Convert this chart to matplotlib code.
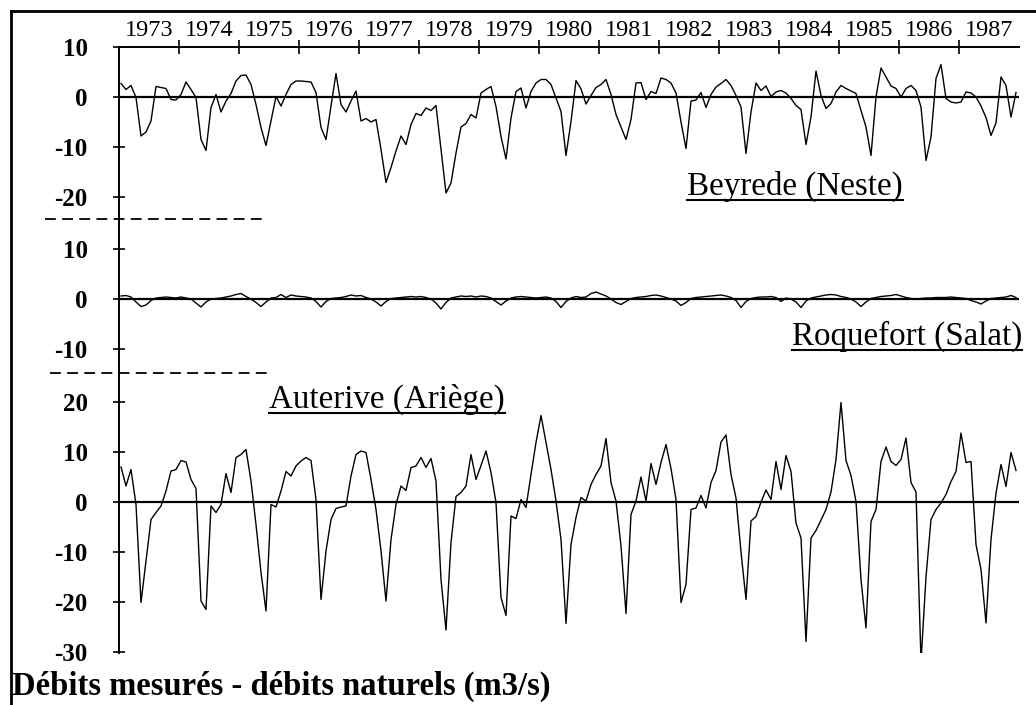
import matplotlib
matplotlib.use("Agg")
import matplotlib.pyplot as plt
import matplotlib.transforms as mtransforms
from matplotlib.lines import Line2D

# monthly values, Jan 1973 - Dec 1987 (m3/s)
years = list(range(1973, 1988))

beyrede = [
    2.7, 1.5, 2.3, -0.1, -7.8, -7.0, -4.8, 2.1, 1.9, 1.7, -0.5, -0.6,      # 1973
    0.5, 3.0, 1.5, -0.1, -8.5, -10.7, -2.1, 0.5, -3.0, -0.8, 0.7, 3.2,     # 1974
    4.3, 4.4, 2.5, -1.5, -6.1, -9.7, -4.8, 0.1, -1.8, 0.5, 2.5, 3.2,       # 1975
    3.2, 3.1, 3.0, 0.9, -6.1, -8.5, -1.8, 4.7, -1.5, -3.0, -0.8, 1.2,      # 1976
    -4.8, -4.3, -5.0, -4.5, -10.5, -17.1, -14.1, -10.8, -7.8, -9.5, -5.5, -3.3,  # 1977
    -3.7, -2.2, -2.7, -1.7, -10.5, -19.2, -17.2, -11.2, -6.0, -5.3, -3.5, -4.2,  # 1978
    0.8, 1.5, 2.1, -1.9, -7.9, -12.4, -4.2, 1.1, 1.8, -2.2, 1.1, 2.8,      # 1979
    3.5, 3.5, 2.5, -0.2, -2.9, -11.7, -4.9, 3.3, 1.6, -1.4, 0.3, 1.9,      # 1980
    2.5, 3.5, 0.5, -3.5, -6.0, -8.5, -4.5, 2.8, 2.9, -0.5, 1.1, 0.7,       # 1981
    3.8, 3.5, 2.8, 0.8, -5.0, -10.3, -0.8, -0.6, 0.9, -2.1, 0.5, 2.0,      # 1982
    2.7, 3.5, 2.3, 0.3, -2.0, -11.3, -3.0, 2.8, 1.3, 2.2, 0.1, 1.0,        # 1983
    1.3, 0.8, -0.3, -1.7, -2.5, -9.5, -4.0, 5.2, 0.3, -2.3, -1.3, 1.0,     # 1984
    2.3, 1.7, 1.2, 0.7, -2.7, -6.0, -11.7, 0.0, 5.8, 4.0, 2.2, 1.7,        # 1985
    0.0, 1.7, 2.3, 1.3, -2.0, -12.7, -8.0, 3.7, 6.5, -0.3, -1.0, -1.2,     # 1986
    -1.0, 1.0, 0.8, 0.0, -1.8, -4.1, -7.7, -5.2, 4.0, 2.3, -4.0, 0.9,      # 1987
]

roquefort = [
    0.6, 0.7, 0.4, -0.6, -1.5, -1.2, -0.3, 0.2, 0.3, 0.4, 0.3, 0.2,
    0.4, 0.2, 0.0, -0.8, -1.6, -0.6, 0.0, 0.1, 0.2, 0.4, 0.6, 0.9,
    1.1, 0.5, 0.0, -0.7, -1.5, -0.6, 0.2, 0.3, 0.9, 0.3, 0.8, 0.6,
    0.5, 0.4, 0.2, -0.5, -1.6, -0.5, 0.1, 0.2, 0.3, 0.5, 0.8, 0.6,
    0.7, 0.3, 0.0, -0.6, -1.4, -0.5, 0.1, 0.2, 0.3, 0.4, 0.5, 0.4,
    0.5, 0.3, 0.0, -0.8, -2.0, -0.7, 0.2, 0.4, 0.6, 0.5, 0.6, 0.4,
    0.6, 0.5, 0.2, -0.5, -1.2, -0.4, 0.2, 0.4, 0.5, 0.4, 0.3, 0.2,
    0.3, 0.4, 0.2, -0.5, -1.7, -0.5, 0.2, 0.5, 0.3, 0.4, 1.1, 1.4,
    1.0, 0.6, 0.0, -0.7, -1.1, -0.5, 0.1, 0.3, 0.4, 0.5, 0.7, 0.8,
    0.6, 0.3, 0.0, -0.4, -1.3, -0.7, 0.1, 0.3, 0.4, 0.5, 0.6, 0.7,
    0.8, 0.6, 0.3, -0.3, -1.7, -0.5, 0.1, 0.3, 0.4, 0.4, 0.5, 0.3,
    -0.5, 0.2, 0.0, -0.6, -1.7, -0.4, 0.2, 0.4, 0.6, 0.8, 0.9, 0.8,
    0.5, 0.3, 0.0, -0.6, -1.5, -0.6, 0.1, 0.3, 0.5, 0.6, 0.7, 0.9,
    0.6, 0.3, 0.1, 0.0, 0.1, 0.2, 0.2, 0.3, 0.3, 0.3, 0.4, 0.3,
    0.2, 0.1, -0.3, -0.6, -1.0, -0.4, 0.1, 0.2, 0.3, 0.4, 0.7, 0.3,
]

auterive = [
    7.0, 3.2, 6.5, -0.5, -20.1, -11.8, -3.5, -2.1, -0.8, 2.2, 6.2, 6.5,
    8.3, 8.0, 4.5, 2.7, -19.8, -21.5, -0.8, -2.1, -0.5, 5.7, 1.9, 8.9,
    9.5, 10.5, 4.2, -4.5, -14.1, -21.8, -0.5, -1.0, 2.2, 6.1, 5.2, 7.2,
    8.2, 8.9, 8.3, 0.5, -19.5, -9.8, -3.5, -1.3, -1.0, -0.8, 5.2, 9.5,
    10.2, 9.9, 4.5, -1.5, -9.8, -19.8, -7.5, -0.5, 3.2, 2.3, 6.9, 7.2,
    8.9, 6.9, 8.7, 4.2, -15.5, -25.6, -8.1, 1.1, 1.9, 3.2, 9.5, 4.5,
    7.3, 10.2, 5.9, -0.1, -19.1, -22.7, -2.8, -3.3, 0.5, -1.1, 5.5, 11.9,
    17.3, 11.9, 6.5, 0.2, -7.5, -24.3, -8.5, -3.1, 0.9, 0.2, 3.5, 5.5,
    7.2, 12.7, 3.9, 0.2, -8.8, -22.3, -2.5, 0.2, 5.0, 0.2, 7.7, 3.5,
    7.9, 11.5, 6.7, 0.5, -20.1, -16.5, -1.5, -1.2, 1.3, -1.2, 3.9, 6.3,
    12.0, 13.4, 5.5, 0.8, -10.0, -19.5, -3.8, -2.9, 0.0, 2.4, 0.5, 8.1,
    2.5, 9.3, 6.1, -4.2, -7.2, -27.9, -7.2, -5.7, -3.6, -1.5, 2.0, 8.5,
    19.9, 8.3, 5.3, 0.1, -15.5, -25.2, -3.9, -1.5, 8.1, 11.0, 8.1, 7.3,
    8.5, 12.8, 3.9, 2.0, -31.9, -15.0, -3.5, -1.5, -0.2, 1.5, 4.1, 6.1,
    13.8, 7.9, 8.1, -8.5, -13.5, -24.2, -7.5, 1.8, 7.5, 3.1, 9.9, 6.3,
]

ticks_top = [10, 0, -10, -20]
ticks_mid = [10, 0, -10]
ticks_bot = [20, 10, 0, -10, -20, -30]

# vertical offsets of the three stacked panels (layout only)
off_top, off_mid, off_bot = 0.0, -40.4, -81.0

plt.rcParams['font.family'] = ['Liberation Serif', 'DejaVu Serif']

W, H = 1036, 705
fig = plt.figure(figsize=(W / 100, H / 100), dpi=100)
ax = fig.add_axes([119 / W, 1 - 653 / H, 900 / W, 606 / H])

t = [years[0] + (i + 0.4) / 12 for i in range(len(beyrede))]

for series, off in [(beyrede, off_top), (roquefort, off_mid), (auterive, off_bot)]:
    ax.plot(t, [v + off for v in series], color='black', lw=1.0)
    ax.axhline(off, color='black', lw=1.6)

ax.set_xlim(years[0], years[-1] + 1)
ax.set_ylim(-111.2, 10)

yt = [v + off_top for v in ticks_top] + [v + off_mid for v in ticks_mid] + \
     [v + off_bot for v in ticks_bot]
yl = [str(v) for v in ticks_top + ticks_mid + ticks_bot]
ax.set_yticks(yt)
ax.set_yticklabels(yl, fontsize=18, fontweight='bold')
ax.tick_params(axis='y', direction='inout', length=9, width=1.2, pad=18)

ax.xaxis.tick_top()
ax.set_xticks(years[1:])
ax.set_xticks([y + 0.5 for y in years], minor=True)
ax.set_xticklabels([], minor=False)
ax.set_xticklabels([str(y) for y in years], minor=True, fontsize=17.5)
ax.tick_params(axis='x', which='major', direction='inout', length=10, width=1.2,
               top=True, bottom=False)
ax.tick_params(axis='x', which='minor', length=0, pad=4, top=True, bottom=False)

for s in ['right', 'bottom']:
    ax.spines[s].set_visible(False)
for s in ['left', 'top']:
    ax.spines[s].set_linewidth(1.4)

# dashed separators between panels
trans = mtransforms.blended_transform_factory(ax.transAxes, ax.transData)
ax.plot([-0.082, 0.162], [-24.4, -24.4], transform=trans, color='black',
        lw=1.3, ls=(0, (6, 3.5)), clip_on=False)
ax.plot([-0.077, 0.168], [-55.2, -55.2], transform=trans, color='black',
        lw=1.3, ls=(0, (6, 3.5)), clip_on=False)

# outer frame (left and top only)
fig.add_artist(Line2D([11 / W, 11 / W], [0, 1 - 11 / H], color='black', lw=2))
fig.add_artist(Line2D([11 / W, 1], [1 - 11 / H, 1 - 11 / H], color='black', lw=2))

# station names, underlined
names = [("Beyrede (Neste)", 795, 195), ("Roquefort (Salat)", 907, 345),
         ("Auterive (Ariège)", 387, 408)]
txts = []
for name, px, py in names:
    txts.append((fig.text(px / W, 1 - py / H, name, fontsize=23.8, ha='center',
                          va='baseline'), py))

fig.text(12 / W, 1 - 695 / H, "Débits mesurés - débits naturels (m3/s)",
         fontsize=23.5, fontweight='bold', ha='left', va='baseline')

fig.canvas.draw()
r = fig.canvas.get_renderer()
for txt, py in txts:
    bb = txt.get_window_extent(r)
    yy = 1 - (py + 4.5) / H
    fig.add_artist(Line2D([bb.x0 / W, bb.x1 / W], [yy, yy], color='black', lw=1.5))

fig.savefig("out.png", dpi=100)
